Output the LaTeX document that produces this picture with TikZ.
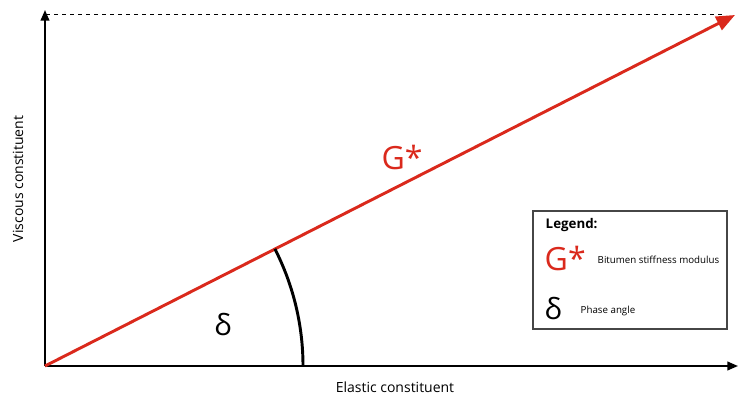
\documentclass[tikz,border=0pt]{standalone}
\usepackage{fontspec}
\setmainfont{Open Sans}
\usepackage{tikz}
\usetikzlibrary{positioning, arrows.meta}
\definecolor{modred}{RGB}{218, 41, 28}
\definecolor{boxgray}{RGB}{70, 70, 70}

\tikzset{
  axis/.style={line width=1.5pt, -{Triangle[length=8pt, width=6.5pt]}},
  vector/.style={modred, line width=2.2pt, -{Triangle[length=14pt, width=11pt]}},
  bigsym/.style={font=\fontsize{24}{24}\selectfont},
  deltasym/.style={font=\fontsize{22}{22}\selectfont},
  axlabel/.style={font=\fontsize{10.5}{11}\selectfont},
  legtext/.style={font=\fontsize{7.3}{8}\selectfont, anchor=west},
}

\begin{document}
\begin{tikzpicture}[x=0.75pt, y=0.75pt]
  \useasboundingbox (0,0) rectangle (739,397);

  % axes
  \coordinate (O) at (45,31);
  \coordinate (xend) at (738,31);
  \coordinate (yend) at (45,387);
  \coordinate (Gtip) at (735,382);
  \coordinate (dashstart) at (46,383);
  \coordinate (dashend) at (725,383);
  \draw[axis] (O) -- (xend);
  \draw[axis] (O) -- (yend);
  \draw[dashed, line width=0.6pt] (dashstart) -- (dashend);

  % complex modulus
  \draw[vector] (O) -- (Gtip);
  \draw[line width=2.2pt] (O) ++(0:258) arc[start angle=0, end angle=27, radius=258];

  % labels
  \node[bigsym, modred] (Glabel) at (402,240) {G*};
  \node[deltasym] (delta) at (223,72) {δ};
  \node[axlabel] (xlabel) at (395,10) {Elastic constituent};
  \node[axlabel, rotate=90] (ylabel) at (18,218) {Viscous constituent};

  % legend
  \node[draw=boxgray, line width=0.8pt, minimum width=194*0.75pt, minimum height=118*0.75pt,
        inner sep=0pt] (legend) at (630,127) {};
  \node[font=\bfseries\fontsize{10}{11}\selectfont, anchor=west] (legtitle) at (541,172) {Legend:};
  \node[bigsym, modred, anchor=west] (legG) at (540,139) {G*};
  \node[legtext] (legGtext) at (593,137) {Bitumen stiffness modulus};
  \node[deltasym, anchor=west] (legdelta) at (540,88) {δ};
  \node[legtext] (legdtext) at (576,86) {Phase angle};
\end{tikzpicture}
\end{document}
